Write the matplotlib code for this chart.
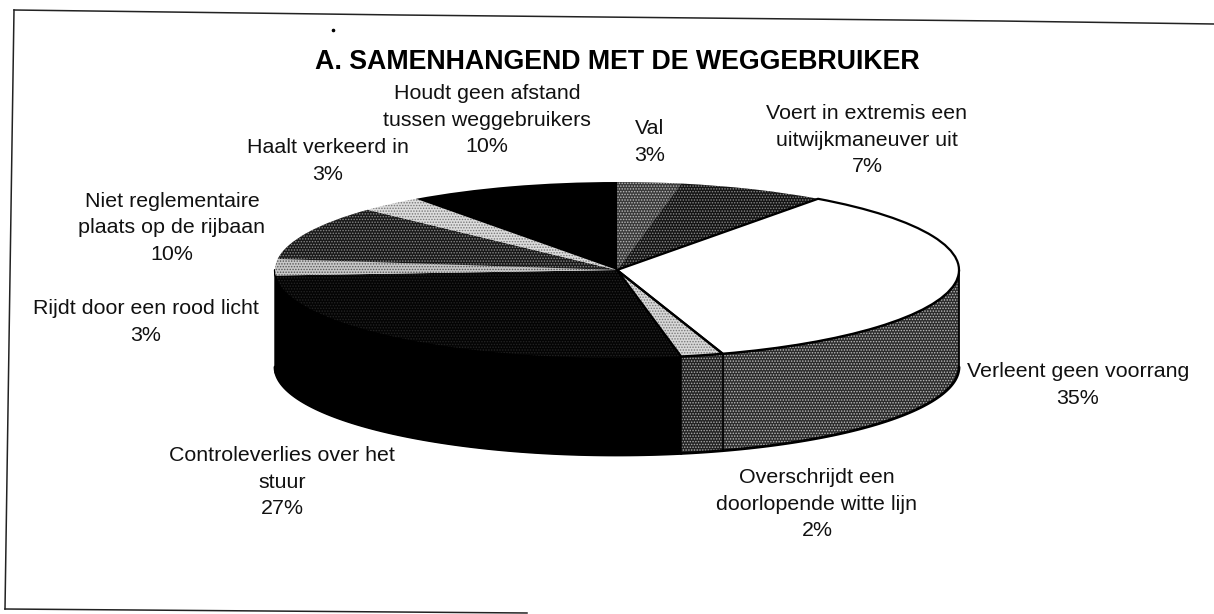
import numpy as np
import matplotlib
matplotlib.use("Agg")
import matplotlib.pyplot as plt
from matplotlib.lines import Line2D

plt.rcParams['font.family'] = ['Liberation Sans', 'DejaVu Sans']
plt.rcParams['hatch.linewidth'] = 0.7

title = "A. SAMENHANGEND MET DE WEGGEBRUIKER"
categories = ["Val", "Voert in extremis een\nuitwijkmaneuver uit", "Verleent geen voorrang",
              "Overschrijdt een\ndoorlopende witte lijn", "Controleverlies over het\nstuur",
              "Rijdt door een rood licht", "Niet reglementaire\nplaats op de rijbaan",
              "Haalt verkeerd in", "Houdt geen afstand\ntussen weggebruikers"]
values = [3, 7, 35, 2, 27, 3, 10, 3, 10]
top_base = ['#3a3a3a', '#141414', '#ffffff', '#d8d8d8', '#040404', '#c8c8c8', '#181818', '#dddddd', '#000000']
top_dots = ['#bbbbbb', '#888888', '#ffffff', '#777777', '#242424', '#555555', '#888888', '#777777', '#000000']
side_base = ['#000000', '#000000', '#2c2c2c', '#222222', '#000000', '#000000', '#000000', '#000000', '#000000']
side_dots = ['#000000', '#000000', '#bdbdbd', '#aaaaaa', '#000000', '#000000', '#000000', '#000000', '#000000']
outlined = [False, False, True, True, False, False, False, False, False]
# label anchor centres, in reference pixels
label_xy = [(650, 142), (867, 140), (1078, 385), (817, 504), (282, 482), (146, 322), (172, 228), (328, 161), (487, 120)]

W, H = 1214, 614
CX, CY, RX, RY, DEPTH = 617, 270, 342, 88, 97

fig = plt.figure(figsize=(W / 100, H / 100), dpi=100, facecolor='white')
ax = fig.add_axes([0, 0, 1, 1])

# side wall of the disc, one band per slice
edges = np.cumsum([0] + values) / sum(values) * 360
d = DEPTH / RY
for i in range(len(values)):
    a0, a1 = max(edges[i], 90), min(edges[i + 1], 270)
    if a1 <= a0:
        continue
    t = np.radians(np.linspace(a0, a1, 80))
    xs = np.sin(t)
    ys = np.cos(t)
    solid = side_base[i] == '#000000'
    ax.fill(np.r_[xs, xs[::-1]], np.r_[ys, ys[::-1] - d], facecolor=side_base[i],
            edgecolor=side_dots[i], hatch=None if solid else '.' * 6, lw=1 if solid else 0, zorder=1)
    if not solid:
        ax.plot(np.r_[xs[0], xs[0]], [ys[0], ys[0] - d], color='black', lw=1.3, zorder=2)
    ax.plot(xs, ys - d, color='black', lw=2, zorder=2, solid_capstyle='round')
    ax.plot(xs, ys, color='black', lw=1.6, zorder=2, solid_capstyle='round')

# top face
wedges, _ = ax.pie(values, radius=1, startangle=90, counterclock=False, colors=top_base)
for w, dots, base in zip(wedges, top_dots, top_base):
    w.set_linewidth(0)
    w.set_edgecolor(dots)
    w.set_zorder(3)
    if dots != base:
        w.set_hatch('.' * 6)
outline, _ = ax.pie(values, radius=1, startangle=90, counterclock=False,
                    colors=['none'] * len(values),
                    wedgeprops=dict(edgecolor='black', linewidth=1.6))
for w, keep in zip(outline, outlined):
    w.set_zorder(4)
    w.set_visible(keep)

ax.set_aspect('auto')
ax.set_xlim(-CX / RX, (W - CX) / RX)
ax.set_ylim((CY - H) / RY, CY / RY)
ax.axis('off')


def fx(x, y):
    return x / W, 1 - y / H


for text, value, (x, y) in zip(categories, values, label_xy):
    px, py = fx(x, y)
    fig.text(px, py, f"{text}\n{value}%", ha='center', va='center', fontsize=15.4,
             linespacing=1.5, color='#111111')

tx, ty = fx(617, 62)
fig.text(tx, ty, title, ha='center', va='center', fontsize=19.3, fontweight='bold', color='black')

# scanned page frame
frame_lines = [[(14, 10), (400, 15), (1000, 21), (1214, 24)], [(14, 10), (5, 609)], [(5, 609), (527, 613)]]
for seg in frame_lines:
    pts = [fx(*p) for p in seg]
    fig.add_artist(Line2D([p[0] for p in pts], [p[1] for p in pts], color='#222222', lw=1.1,
                          transform=fig.transFigure))
dx, dy = fx(333, 30)
fig.add_artist(Line2D([dx], [dy], marker='o', ms=1.6, color='black', transform=fig.transFigure))

fig.savefig('out.png', dpi=100)
